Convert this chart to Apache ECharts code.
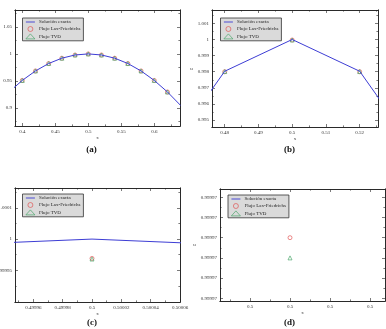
<!DOCTYPE html>
<html><head><meta charset="utf-8">
<script src="https://cdn.jsdelivr.net/npm/echarts@6/dist/echarts.min.js"></script>
<style>html,body{margin:0;padding:0;background:#fff}#c{width:386px;height:329px}</style>
</head><body><div id="c"></div>
<script>
// ---- data ----
const seriesNames = ['Solución exacta', 'Flujo Lax-Friedrichs', 'Flujo TVD'];
const panelLabels = ['(a)', '(b)', '(c)', '(d)'];
const exactX = [0.38, 0.40, 0.42, 0.44, 0.46, 0.48, 0.50, 0.52, 0.54, 0.56, 0.58, 0.60, 0.62, 0.64];
const exactU = [0.92978, 0.95106, 0.96858, 0.98229, 0.99211, 0.99803, 1.00000, 0.99803, 0.99211, 0.98229, 0.96858, 0.95106, 0.92978, 0.90483];
const pointX = [0.40, 0.42, 0.44, 0.46, 0.48, 0.50, 0.52, 0.54, 0.56, 0.58, 0.60, 0.62];
const lfU  = [0.95103, 0.96855, 0.98226, 0.99208, 0.99800, 0.999969, 0.99800, 0.99208, 0.98226, 0.96855, 0.95103, 0.92975];
const tvdU = [0.95104, 0.96856, 0.98227, 0.99209, 0.99801, 0.999968, 0.99801, 0.99209, 0.98227, 0.96856, 0.95104, 0.92976];

// tick values per panel
const aXTicks = [0.4, 0.45, 0.5, 0.55, 0.6];
const aXMinor = [0.425, 0.475, 0.525, 0.575, 0.625];
const aYTicks = [0.9, 0.95, 1, 1.05];
const aYMinor = [0.875, 0.925, 0.975, 1.025, 1.075];
const bXTicks = [0.48, 0.49, 0.5, 0.51, 0.52];
const bXMinor = [0.485, 0.495, 0.505, 0.515, 0.525];
const bYTicks = [0.995, 0.996, 0.997, 0.998, 0.999, 1, 1.001];
const bYMinor = [0.9955, 0.9965, 0.9975, 0.9985, 0.9995, 1.0005, 1.0015];
const cXTicks = [0.49996, 0.49998, 0.5, 0.50002, 0.50004, 0.50006];
const cXMinor = [0.49995, 0.49997, 0.49999, 0.50001, 0.50003, 0.50005];
const cYTicks = [0.99995, 1, 1.00005];
const cYMinor = [0.999925, 0.999975, 1.000025, 1.000075];
const dXTicks = [0.4999999, 0.5, 0.5000001, 0.5000002];
const dXMinor = [0.49999985, 0.49999995, 0.50000005, 0.50000015];
const dYTicks = [0.999966, 0.999967, 0.999968, 0.999969, 0.999970, 0.999971];
const dYMinor = [0.9999665, 0.9999675, 0.9999685, 0.9999695, 0.9999705];

// ---- layout ----
const panels = [
  {grid:{left:15, top:10, width:165, height:116}, x:[0.389, 0.639], y:[0.867, 1.081],
   xt:aXTicks, xm:aXMinor, yt:aYTicks, ym:aYMinor, uGap:11, xGap:6, showU:true,
   legend:{left:22.5, top:18}, cap:[91.5, 150]},
  {grid:{left:212, top:10, width:166, height:117}, x:[0.47623, 0.52543], y:[0.99457, 1.00183],
   xt:bXTicks, xm:bXMinor, yt:bYTicks, ym:bYMinor, uGap:12, xGap:6, showU:true,
   legend:{left:220.5, top:18}, cap:[289.5, 150]},
  {grid:{left:15, top:188, width:165, height:114}, x:[0.4999475, 0.50006], y:[0.999899, 1.000082],
   xt:cXTicks, xm:cXMinor, yt:cYTicks, ym:cYMinor, uGap:20, xGap:6, showU:false,
   legend:{left:22.5, top:194}, cap:[92, 323]},
  {grid:{left:220, top:189, width:165, height:112}, x:[0.499999825, 0.5000002375], y:[0.999965866, 0.99997141],
   xt:dXTicks, xm:dXMinor, yt:dYTicks, ym:dYMinor, uGap:19, xGap:6, showU:true,
   legend:{left:228, top:195}, cap:[289.5, 323]}
];

const fmt = v => String(parseFloat(Number(v).toPrecision(5)));
const FONT = 'Liberation Serif';
const AXC = '#222';
const lbl = {fontSize:5, fontFamily:FONT, color:'#333'};
const LINEC = '#3d3dd4';

const grids = [], xAxes = [], yAxes = [], series = [], legends = [], graphics = [];
panels.forEach((p, g) => {
  grids.push(Object.assign({containLabel:false, outerBoundsMode:'none'}, p.grid));
  const base = (dim) => ({type:'value', gridIndex:g, min: dim==='x'?p.x[0]:p.y[0], max: dim==='x'?p.x[1]:p.y[1],
    splitLine:{show:false}, axisLine:{show:true, onZero:false, lineStyle:{color:AXC, width:0.8}}});
  const mk = (dim, pos, ticks, len, labelled) => Object.assign(base(dim), {
    position:pos,
    axisTick:{show:true, inside:true, length:len, customValues:ticks, lineStyle:{color:AXC, width:0.6}},
    axisLabel: labelled ? Object.assign({show:true, customValues:ticks, formatter:fmt, margin:3, hideOverlap:false}, lbl) : {show:false}
  });
  const xa = mk('x', 'bottom', p.xt, 3, true);
  xa.name = 'x'; xa.nameLocation = 'middle'; xa.nameGap = p.xGap + 3; xa.nameTextStyle = lbl;
  xAxes.push(xa, mk('x', 'top', p.xt, 3, false), mk('x', 'bottom', p.xm, 1.6, false), mk('x', 'top', p.xm, 1.6, false));
  const ya = mk('y', 'left', p.yt, 3, true);
  if (p.showU) { ya.name = 'u'; ya.nameLocation = 'middle'; ya.nameGap = p.uGap; ya.nameRotate = 0; ya.nameTextStyle = lbl; }
  yAxes.push(ya, mk('y', 'right', p.yt, 3, false), mk('y', 'left', p.ym, 1.6, false), mk('y', 'right', p.ym, 1.6, false));
  const xi = g*4, yi = g*4;
  series.push({name:seriesNames[0], type:'line', xAxisIndex:xi, yAxisIndex:yi, symbol:'none', clip:true,
    data: exactX.map((x,i)=>[x, exactU[i]]), lineStyle:{color:LINEC, width:1}, itemStyle:{color:LINEC}, animation:false});
  series.push({name:seriesNames[1], type:'scatter', xAxisIndex:xi, yAxisIndex:yi, symbol:'circle', symbolSize:4, clip:true,
    data: pointX.map((x,i)=>[x, lfU[i]]), itemStyle:{color:'rgba(0,0,0,0)', borderColor:'#e04848', borderWidth:0.8}, animation:false});
  series.push({name:seriesNames[2], type:'scatter', xAxisIndex:xi, yAxisIndex:yi, symbol:'triangle', symbolSize:4, clip:true,
    data: pointX.map((x,i)=>[x, tvdU[i]]), itemStyle:{color:'rgba(0,0,0,0)', borderColor:'#3da060', borderWidth:0.8}, animation:false});
  legends.push({left:p.legend.left, top:p.legend.top, orient:'vertical', backgroundColor:'#dadada', borderColor:'#333', borderWidth:0.8,
    padding:[1.5, 3, 1.5, 3], itemGap:1.6, itemWidth:9, itemHeight:5, selectedMode:false, symbolKeepAspect:true,
    textStyle:{fontSize:5, fontFamily:FONT, color:'#222', padding:[0,0,0,-1]},
    data:[
      {name:seriesNames[0], icon:'path://M0,0 L10,0 L10,1 L0,1 Z', itemStyle:{color:LINEC, borderWidth:0}},
      {name:seriesNames[1], icon:'circle', itemStyle:{color:'rgba(0,0,0,0)', borderColor:'#e04848', borderWidth:0.8}},
      {name:seriesNames[2], icon:'triangle', itemStyle:{color:'rgba(0,0,0,0)', borderColor:'#3da060', borderWidth:0.8}}
    ]});
  graphics.push({type:'text', x:p.cap[0], y:p.cap[1], style:{text:panelLabels[g], font:'bold 9px "Liberation Serif"', fill:'#111', align:'center', verticalAlign:'middle'}});
});

const chart = echarts.init(document.getElementById('c'), null, {renderer:'canvas'});
chart.setOption({animation:false, grid:grids, xAxis:xAxes, yAxis:yAxes, series:series, legend:legends, graphic:graphics});
</script></body></html>
